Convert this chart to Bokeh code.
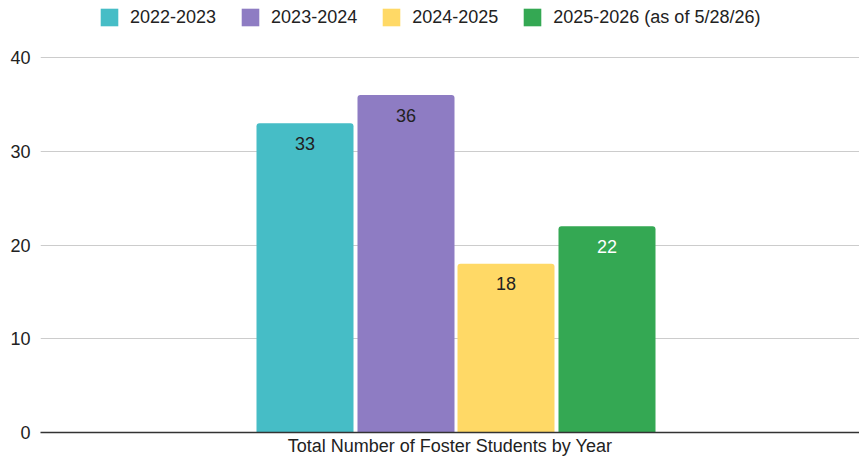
from bokeh.plotting import figure
from bokeh.models import ColumnDataSource, FactorRange, Range1d, FixedTicker, Legend, LegendItem
from bokeh.transform import dodge
from bokeh.core.properties import value
from bokeh.embed import file_html
from bokeh.resources import INLINE

group = ["Total Number of Foster Students by Year"]
series = ["2022-2023", "2023-2024", "2024-2025", "2025-2026 (as of 5/28/26)"]
counts = [33, 36, 18, 22]
colors = ["#46BDC6", "#8E7CC3", "#FFD966", "#34A853"]
label_colors = ["#222222", "#222222", "#222222", "#FFFFFF"]
y_ticks = [0, 10, 20, 30, 40]

FONT = "Liberation Sans"
W, H = 859, 458
TOP_GAP, BOTTOM, LEFT = 57, 26, 40
frame_w = W - LEFT
frame_h = H - BOTTOM
y_max = y_ticks[-1]
y_end = y_max * frame_h / (frame_h - TOP_GAP)   # leave room above the top tick for the legend
shift = 6 / frame_w
offsets = [-151 / frame_w + shift, -50 / frame_w + shift, 50 / frame_w + shift, 151 / frame_w + shift]
bar_w = 97 / frame_w

p = figure(width=W, height=H, x_range=FactorRange(*group), y_range=Range1d(0, y_end),
           output_backend="svg", toolbar_location=None,
           min_border_left=LEFT, min_border_right=0, min_border_top=0, min_border_bottom=BOTTOM)
p.outline_line_color = None
p.background_fill_color = "white"
p.border_fill_color = "white"

items = []
for i, name in enumerate(series):
    src = ColumnDataSource(dict(cat=group, val=[counts[i]], txt=[str(counts[i])]))
    r = p.vbar(x=dodge("cat", offsets[i], range=p.x_range), top="val", width=bar_w, source=src,
               fill_color=colors[i], line_color=None, border_radius=(3, 3, 0, 0))
    p.text(x=dodge("cat", offsets[i], range=p.x_range), y="val", text="txt", source=src,
           text_align="center", text_baseline="middle", y_offset=20,
           text_font=value(FONT), text_font_size="18px", text_color=label_colors[i])
    items.append(LegendItem(label=name, renderers=[r]))

legend = Legend(items=items, orientation="horizontal", location=(58, frame_h - 28),
                glyph_width=22, glyph_height=22, label_standoff=10, spacing=23,
                padding=0, margin=0, border_line_color=None, background_fill_alpha=0,
                label_text_font=FONT, label_text_font_size="18px", label_text_color="#222222")
p.add_layout(legend, "center")

p.yaxis.ticker = FixedTicker(ticks=y_ticks)
p.yaxis.axis_line_color = None
p.yaxis.major_tick_line_color = None
p.yaxis.major_tick_out = 0
p.yaxis.minor_tick_line_color = None
p.yaxis.major_label_standoff = 10
p.yaxis.major_label_text_font = FONT
p.yaxis.major_label_text_font_size = "18px"
p.yaxis.major_label_text_color = "#222222"

p.xaxis.axis_line_color = "#333333"
p.xaxis.axis_line_width = 1.5
p.xaxis.major_tick_line_color = None
p.xaxis.major_tick_out = 0
p.xaxis.minor_tick_line_color = None
p.xaxis.major_label_standoff = 3
p.xaxis.major_label_text_font = FONT
p.xaxis.major_label_text_font_size = "18px"
p.xaxis.major_label_text_color = "#222222"

p.xgrid.grid_line_color = None
p.ygrid.grid_line_color = "#CCCCCC"
p.ygrid.grid_line_width = 1

open("out.html", "w").write(file_html(p, INLINE))
